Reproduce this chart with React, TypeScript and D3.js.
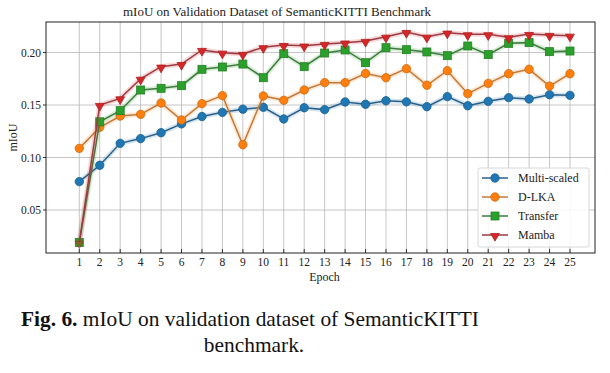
import { useEffect, useRef } from "react";
import * as d3 from "d3";

const epochs = [1, 2, 3, 4, 5, 6, 7, 8, 9, 10, 11, 12, 13, 14, 15, 16, 17, 18, 19, 20, 21, 22, 23, 24, 25];

const multiScaled = [0.077, 0.0926, 0.1135, 0.118, 0.1236, 0.132, 0.139, 0.143, 0.146, 0.1478, 0.1367, 0.1474, 0.1456, 0.1529, 0.1507, 0.154, 0.153, 0.1484, 0.158, 0.1493, 0.1535, 0.157, 0.1557, 0.1598, 0.1592];
const dlka = [0.1087, 0.1288, 0.1395, 0.1411, 0.1519, 0.1357, 0.1513, 0.1589, 0.1122, 0.1586, 0.1545, 0.1643, 0.1713, 0.1713, 0.18, 0.176, 0.1846, 0.1688, 0.1827, 0.1608, 0.1706, 0.1798, 0.184, 0.168, 0.1798];
const transfer = [0.019, 0.134, 0.1446, 0.1643, 0.1659, 0.1684, 0.184, 0.1862, 0.189, 0.176, 0.1989, 0.1865, 0.1995, 0.2024, 0.1903, 0.2046, 0.2027, 0.2005, 0.197, 0.2062, 0.198, 0.2087, 0.2094, 0.2008, 0.2014];
const mamba = [0.019, 0.15, 0.1563, 0.175, 0.1865, 0.189, 0.2024, 0.1998, 0.1986, 0.205, 0.2071, 0.2065, 0.2081, 0.2094, 0.211, 0.215, 0.2195, 0.215, 0.2189, 0.2173, 0.2173, 0.2145, 0.2176, 0.2167, 0.216];

const seriesNames = ["Multi-scaled", "D-LKA", "Transfer", "Mamba"];
const yTicks = [0.05, 0.1, 0.15, 0.2];

const W = 610;
const H = 373;
const frame = { left: 46, right: 595, top: 22, bottom: 253 };
const serif = "'Liberation Serif', 'Times New Roman', serif";

export default function App() {
  const ref = useRef<SVGSVGElement>(null);

  useEffect(() => {
    const svg = d3.select(ref.current);
    svg.selectAll("*").remove();

    const x = d3.scaleLinear().domain([1, 25]).range([79.3, 570]);
    const y = d3.scaleLinear().domain([0.05, 0.2]).range([210, 52.5]);

    svg.append("rect").attr("width", W).attr("height", H).attr("fill", "#fff");

    // grid
    const g = svg.append("g");
    g.selectAll(".vg")
      .data(epochs)
      .enter()
      .append("line")
      .attr("x1", (d) => x(d))
      .attr("x2", (d) => x(d))
      .attr("y1", frame.top)
      .attr("y2", frame.bottom)
      .attr("stroke", "#b8b8b8")
      .attr("stroke-width", 0.8);
    g.selectAll(".hg")
      .data(yTicks)
      .enter()
      .append("line")
      .attr("x1", frame.left)
      .attr("x2", frame.right)
      .attr("y1", (d) => y(d))
      .attr("y2", (d) => y(d))
      .attr("stroke", "#b8b8b8")
      .attr("stroke-width", 0.8);

    // ticks
    g.selectAll(".xt")
      .data(epochs)
      .enter()
      .append("line")
      .attr("x1", (d) => x(d))
      .attr("x2", (d) => x(d))
      .attr("y1", frame.bottom)
      .attr("y2", frame.bottom - 4)
      .attr("stroke", "#333");
    g.selectAll(".yt")
      .data(yTicks)
      .enter()
      .append("line")
      .attr("x1", frame.left - 3)
      .attr("x2", frame.left)
      .attr("y1", (d) => y(d))
      .attr("y2", (d) => y(d))
      .attr("stroke", "#333");

    // tick labels
    g.selectAll(".xl")
      .data(epochs)
      .enter()
      .append("text")
      .attr("x", (d) => x(d))
      .attr("y", frame.bottom + 13)
      .attr("text-anchor", "middle")
      .attr("font-family", serif)
      .attr("font-size", 11.5)
      .attr("fill", "#222")
      .text((d) => d);
    g.selectAll(".yl")
      .data(yTicks)
      .enter()
      .append("text")
      .attr("x", frame.left - 5)
      .attr("y", (d) => y(d) + 4)
      .attr("text-anchor", "end")
      .attr("font-family", serif)
      .attr("font-size", 11.5)
      .attr("fill", "#222")
      .text((d) => d3.format(".2f")(d));

    // frame
    svg
      .append("rect")
      .attr("x", frame.left)
      .attr("y", frame.top)
      .attr("width", frame.right - frame.left)
      .attr("height", frame.bottom - frame.top)
      .attr("fill", "none")
      .attr("stroke", "#222")
      .attr("stroke-width", 1);

    const series = [
      { name: seriesNames[0], values: multiScaled, color: "#1f77b4", line: "#2b5f86", marker: "circle" },
      { name: seriesNames[1], values: dlka, color: "#ff7f0e", line: "#c07a3c", marker: "circle" },
      { name: seriesNames[2], values: transfer, color: "#2ca02c", line: "#3f7a3f", marker: "square" },
      { name: seriesNames[3], values: mamba, color: "#d62728", line: "#9c3a44", marker: "triangle" },
    ];

    const line = d3
      .line<number>()
      .x((_, i) => x(epochs[i]))
      .y((d) => y(d));

    const drawMarker = (sel: any, kind: string, color: string, cx: number, cy: number, op = 1) => {
      const edge = d3.color(color)!.darker(0.6).toString();
      if (kind === "circle") {
        sel.append("circle").attr("cx", cx).attr("cy", cy).attr("r", 4.2).attr("fill", color).attr("stroke", edge).attr("stroke-width", 0.8);
      } else if (kind === "square") {
        sel.append("rect").attr("x", cx - 4).attr("y", cy - 4).attr("width", 8).attr("height", 8).attr("fill", color).attr("stroke", edge).attr("stroke-width", 0.8);
      } else {
        sel
          .append("path")
          .attr("d", d3.symbol(d3.symbolTriangle, 34)())
          .attr("transform", `translate(${cx},${cy + 1}) rotate(180)`)
          .attr("fill", color)
          .attr("fill-opacity", op)
          .attr("stroke", edge)
          .attr("stroke-opacity", op)
          .attr("stroke-width", 0.8);
      }
    };

    const plot = svg.append("g");
    series.forEach((s) => {
      plot
        .append("path")
        .attr("d", line(s.values))
        .attr("fill", "none")
        .attr("stroke", s.color)
        .attr("stroke-opacity", 0.18)
        .attr("stroke-width", 5);
      plot
        .append("path")
        .attr("d", line(s.values))
        .attr("fill", "none")
        .attr("stroke", s.line)
        .attr("stroke-width", 1.5);
      const mg = plot.append("g");
      // first Mamba point sits on the Transfer square; blend it like the reference
      s.values.forEach((v, i) =>
        drawMarker(mg, s.marker, s.color, x(epochs[i]), y(v), s.marker === "triangle" && i === 0 ? 0.45 : 1)
      );
    });

    // legend
    const lg = svg.append("g");
    lg.append("rect")
      .attr("x", 478)
      .attr("y", 168)
      .attr("width", 111)
      .attr("height", 79)
      .attr("rx", 2)
      .attr("fill", "#fff")
      .attr("fill-opacity", 0.85)
      .attr("stroke", "#d8d8d8");
    series.forEach((s, i) => {
      const ly = 178 + i * 19;
      lg.append("line").attr("x1", 482).attr("x2", 508).attr("y1", ly).attr("y2", ly).attr("stroke", s.line).attr("stroke-width", 1.5);
      drawMarker(lg, s.marker, s.color, 495, ly);
      lg.append("text")
        .attr("x", 518)
        .attr("y", ly + 4)
        .attr("font-family", serif)
        .attr("font-size", 12)
        .attr("fill", "#222")
        .text(s.name);
    });

    // titles
    svg
      .append("text")
      .attr("x", 277)
      .attr("y", 16)
      .attr("text-anchor", "middle")
      .attr("font-family", serif)
      .attr("font-size", 13)
      .attr("fill", "#222")
      .text("mIoU on Validation Dataset of SemanticKITTI Benchmark");
    svg
      .append("text")
      .attr("x", (frame.left + frame.right) / 2 + 4)
      .attr("y", 281)
      .attr("text-anchor", "middle")
      .attr("font-family", serif)
      .attr("font-size", 12)
      .attr("fill", "#222")
      .text("Epoch");
    svg
      .append("text")
      .attr("transform", `translate(17,${(frame.top + frame.bottom) / 2}) rotate(-90)`)
      .attr("text-anchor", "middle")
      .attr("font-family", serif)
      .attr("font-size", 12)
      .attr("fill", "#222")
      .text("mIoU");

    // caption
    const cap = svg
      .append("text")
      .attr("x", 250)
      .attr("y", 326)
      .attr("text-anchor", "middle")
      .attr("font-family", serif)
      .attr("font-size", 21.4)
      .attr("fill", "#111");
    cap.append("tspan").attr("font-weight", "bold").text("Fig. 6.");
    cap.append("tspan").text(" mIoU on validation dataset of SemanticKITTI");
    svg
      .append("text")
      .attr("x", 254)
      .attr("y", 352)
      .attr("text-anchor", "middle")
      .attr("font-family", serif)
      .attr("font-size", 21.4)
      .attr("fill", "#111")
      .text("benchmark.");
  }, []);

  return (
    <svg
      ref={ref}
      width={W}
      height={H}
      style={{ position: "absolute", left: 0, top: 0, display: "block" }}
    />
  );
}
